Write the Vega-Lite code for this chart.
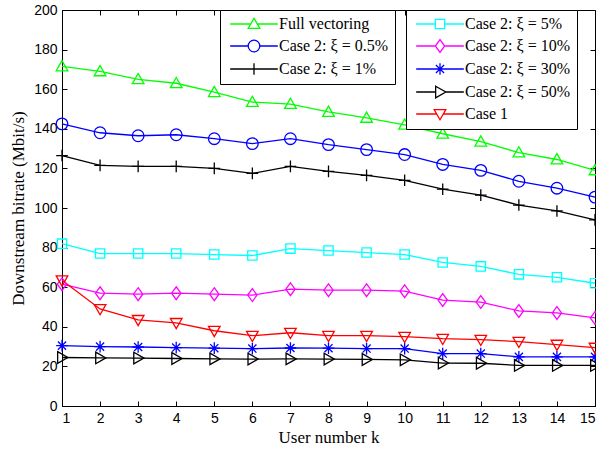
{
"$schema": "https://vega.github.io/schema/vega-lite/v6.json",
"width": 533, "height": 396,
"autosize": {"type": "none"},
"padding": {"left": 62, "top": 10, "right": 1, "bottom": 43},
"background": "white",
"data": {"values": [
{"k":1,"s":"Full vectoring","g":1,"v":171.5},{"k":2,"s":"Full vectoring","g":1,"v":169},{"k":3,"s":"Full vectoring","g":1,"v":165},{"k":4,"s":"Full vectoring","g":1,"v":163},{"k":5,"s":"Full vectoring","g":1,"v":158.5},{"k":6,"s":"Full vectoring","g":1,"v":153.5},{"k":7,"s":"Full vectoring","g":1,"v":152.5},{"k":8,"s":"Full vectoring","g":1,"v":148.5},{"k":9,"s":"Full vectoring","g":1,"v":145.5},{"k":10,"s":"Full vectoring","g":1,"v":142},{"k":11,"s":"Full vectoring","g":1,"v":137.5},{"k":12,"s":"Full vectoring","g":1,"v":133.5},{"k":13,"s":"Full vectoring","g":1,"v":128},{"k":14,"s":"Full vectoring","g":1,"v":124.5},{"k":15,"s":"Full vectoring","g":1,"v":119},
{"k":1,"s":"Case 2: ξ = 0.5%","g":1,"v":142.5},{"k":2,"s":"Case 2: ξ = 0.5%","g":1,"v":138},{"k":3,"s":"Case 2: ξ = 0.5%","g":1,"v":136.5},{"k":4,"s":"Case 2: ξ = 0.5%","g":1,"v":137},{"k":5,"s":"Case 2: ξ = 0.5%","g":1,"v":135},{"k":6,"s":"Case 2: ξ = 0.5%","g":1,"v":132.5},{"k":7,"s":"Case 2: ξ = 0.5%","g":1,"v":135},{"k":8,"s":"Case 2: ξ = 0.5%","g":1,"v":132},{"k":9,"s":"Case 2: ξ = 0.5%","g":1,"v":129.5},{"k":10,"s":"Case 2: ξ = 0.5%","g":1,"v":127},{"k":11,"s":"Case 2: ξ = 0.5%","g":1,"v":122},{"k":12,"s":"Case 2: ξ = 0.5%","g":1,"v":119},{"k":13,"s":"Case 2: ξ = 0.5%","g":1,"v":113.5},{"k":14,"s":"Case 2: ξ = 0.5%","g":1,"v":110},{"k":15,"s":"Case 2: ξ = 0.5%","g":1,"v":105.5},
{"k":1,"s":"Case 2: ξ = 1%","g":1,"v":126.5},{"k":2,"s":"Case 2: ξ = 1%","g":1,"v":121.5},{"k":3,"s":"Case 2: ξ = 1%","g":1,"v":121},{"k":4,"s":"Case 2: ξ = 1%","g":1,"v":121},{"k":5,"s":"Case 2: ξ = 1%","g":1,"v":120},{"k":6,"s":"Case 2: ξ = 1%","g":1,"v":117.5},{"k":7,"s":"Case 2: ξ = 1%","g":1,"v":121},{"k":8,"s":"Case 2: ξ = 1%","g":1,"v":118.5},{"k":9,"s":"Case 2: ξ = 1%","g":1,"v":116.5},{"k":10,"s":"Case 2: ξ = 1%","g":1,"v":114},{"k":11,"s":"Case 2: ξ = 1%","g":1,"v":109.5},{"k":12,"s":"Case 2: ξ = 1%","g":1,"v":106.5},{"k":13,"s":"Case 2: ξ = 1%","g":1,"v":101.5},{"k":14,"s":"Case 2: ξ = 1%","g":1,"v":98.5},{"k":15,"s":"Case 2: ξ = 1%","g":1,"v":94},
{"k":1,"s":"Case 2: ξ = 5%","g":2,"v":82},{"k":2,"s":"Case 2: ξ = 5%","g":2,"v":77},{"k":3,"s":"Case 2: ξ = 5%","g":2,"v":77},{"k":4,"s":"Case 2: ξ = 5%","g":2,"v":77},{"k":5,"s":"Case 2: ξ = 5%","g":2,"v":76.5},{"k":6,"s":"Case 2: ξ = 5%","g":2,"v":76},{"k":7,"s":"Case 2: ξ = 5%","g":2,"v":79.5},{"k":8,"s":"Case 2: ξ = 5%","g":2,"v":78.5},{"k":9,"s":"Case 2: ξ = 5%","g":2,"v":77.5},{"k":10,"s":"Case 2: ξ = 5%","g":2,"v":76.5},{"k":11,"s":"Case 2: ξ = 5%","g":2,"v":72.5},{"k":12,"s":"Case 2: ξ = 5%","g":2,"v":70.5},{"k":13,"s":"Case 2: ξ = 5%","g":2,"v":66.5},{"k":14,"s":"Case 2: ξ = 5%","g":2,"v":65},{"k":15,"s":"Case 2: ξ = 5%","g":2,"v":62},
{"k":1,"s":"Case 2: ξ = 10%","g":2,"v":61.5},{"k":2,"s":"Case 2: ξ = 10%","g":2,"v":57},{"k":3,"s":"Case 2: ξ = 10%","g":2,"v":56.5},{"k":4,"s":"Case 2: ξ = 10%","g":2,"v":57},{"k":5,"s":"Case 2: ξ = 10%","g":2,"v":56.5},{"k":6,"s":"Case 2: ξ = 10%","g":2,"v":56},{"k":7,"s":"Case 2: ξ = 10%","g":2,"v":59},{"k":8,"s":"Case 2: ξ = 10%","g":2,"v":58.5},{"k":9,"s":"Case 2: ξ = 10%","g":2,"v":58.5},{"k":10,"s":"Case 2: ξ = 10%","g":2,"v":58},{"k":11,"s":"Case 2: ξ = 10%","g":2,"v":53.5},{"k":12,"s":"Case 2: ξ = 10%","g":2,"v":52.5},{"k":13,"s":"Case 2: ξ = 10%","g":2,"v":48},{"k":14,"s":"Case 2: ξ = 10%","g":2,"v":47},{"k":15,"s":"Case 2: ξ = 10%","g":2,"v":44.5},
{"k":1,"s":"Case 2: ξ = 30%","g":2,"v":30.5},{"k":2,"s":"Case 2: ξ = 30%","g":2,"v":30},{"k":3,"s":"Case 2: ξ = 30%","g":2,"v":29.8},{"k":4,"s":"Case 2: ξ = 30%","g":2,"v":29.5},{"k":5,"s":"Case 2: ξ = 30%","g":2,"v":29.2},{"k":6,"s":"Case 2: ξ = 30%","g":2,"v":29},{"k":7,"s":"Case 2: ξ = 30%","g":2,"v":29.3},{"k":8,"s":"Case 2: ξ = 30%","g":2,"v":29.2},{"k":9,"s":"Case 2: ξ = 30%","g":2,"v":29},{"k":10,"s":"Case 2: ξ = 30%","g":2,"v":29},{"k":11,"s":"Case 2: ξ = 30%","g":2,"v":26.5},{"k":12,"s":"Case 2: ξ = 30%","g":2,"v":26.5},{"k":13,"s":"Case 2: ξ = 30%","g":2,"v":24.8},{"k":14,"s":"Case 2: ξ = 30%","g":2,"v":24.8},{"k":15,"s":"Case 2: ξ = 30%","g":2,"v":24.8},
{"k":1,"s":"Case 2: ξ = 50%","g":2,"v":24.5},{"k":2,"s":"Case 2: ξ = 50%","g":2,"v":24.3},{"k":3,"s":"Case 2: ξ = 50%","g":2,"v":24.2},{"k":4,"s":"Case 2: ξ = 50%","g":2,"v":24},{"k":5,"s":"Case 2: ξ = 50%","g":2,"v":23.8},{"k":6,"s":"Case 2: ξ = 50%","g":2,"v":23.7},{"k":7,"s":"Case 2: ξ = 50%","g":2,"v":23.8},{"k":8,"s":"Case 2: ξ = 50%","g":2,"v":23.7},{"k":9,"s":"Case 2: ξ = 50%","g":2,"v":23.5},{"k":10,"s":"Case 2: ξ = 50%","g":2,"v":23.3},{"k":11,"s":"Case 2: ξ = 50%","g":2,"v":21.7},{"k":12,"s":"Case 2: ξ = 50%","g":2,"v":21.6},{"k":13,"s":"Case 2: ξ = 50%","g":2,"v":20.5},{"k":14,"s":"Case 2: ξ = 50%","g":2,"v":20.5},{"k":15,"s":"Case 2: ξ = 50%","g":2,"v":20.5},
{"k":1,"s":"Case 1","g":2,"v":63.5},{"k":2,"s":"Case 1","g":2,"v":49},{"k":3,"s":"Case 1","g":2,"v":43.5},{"k":4,"s":"Case 1","g":2,"v":42},{"k":5,"s":"Case 1","g":2,"v":38},{"k":6,"s":"Case 1","g":2,"v":35.5},{"k":7,"s":"Case 1","g":2,"v":37},{"k":8,"s":"Case 1","g":2,"v":35.5},{"k":9,"s":"Case 1","g":2,"v":35.5},{"k":10,"s":"Case 1","g":2,"v":35},{"k":11,"s":"Case 1","g":2,"v":34},{"k":12,"s":"Case 1","g":2,"v":33.5},{"k":13,"s":"Case 1","g":2,"v":32.5},{"k":14,"s":"Case 1","g":2,"v":31},{"k":15,"s":"Case 1","g":2,"v":29.5}
]},
"encoding": {
  "x": {"field": "k", "type": "quantitative", "scale": {"domain": [1, 15], "nice": false, "zero": false}, "axis": null},
  "y": {"field": "v", "type": "quantitative", "scale": {"domain": [0, 200], "nice": false}, "axis": null}
},
"layer": [
  {
    "mark": {"type": "point", "opacity": 0},
    "encoding": {
      "x": {"field": "k", "type": "quantitative", "axis": {"orient": "top", "values": [1,2,3,4,5,6,7,8,9,10,11,12,13,14,15], "labels": false, "grid": false, "title": null, "domain": false}},
      "y": {"field": "v", "type": "quantitative", "axis": {"orient": "right", "values": [0,20,40,60,80,100,120,140,160,180,200], "labels": false, "grid": false, "title": null, "domain": false}}
    }
  },
  {
    "transform": [{"filter": "datum.g == 1"}],
    "encoding": {
      "x": {"field": "k", "type": "quantitative", "title": "User number k",
            "axis": {"values": [1,2,3,4,5,6,7,8,9,10,11,12,13,14,15], "format": "d"}},
      "y": {"field": "v", "type": "quantitative", "title": "Downstream bitrate (Mbit/s)",
            "axis": {"values": [0,20,40,60,80,100,120,140,160,180,200]}},
      "color": {"field": "s", "type": "nominal",
        "scale": {"domain": ["Full vectoring", "Case 2: ξ = 0.5%", "Case 2: ξ = 1%"], "range": ["#00ff00", "#0000ff", "#000000"]},
        "legend": {"orient": "none", "legendX": 158, "legendY": 0, "title": null,
          "encode": {"symbols": {"update": {"fill": {"value": "transparent"}, "strokeWidth": {"value": 1.3},
            "shape": {"signal": "datum.value === 'Full vectoring' ? 'M-4.1,0H-0.6M0.6,0H4.1M0,-1L1,0.75L-1,0.75Z' : datum.value === 'Case 2: ξ = 0.5%' ? 'M-4.1,0H-1M1,0H4.1M1,0A1,1,0,1,1,-1,0A1,1,0,1,1,1,0Z' : 'M-4.1,0H4.1M0,-1V1'"}}}}}}
    },
    "layer": [
      {"mark": {"type": "line", "strokeWidth": 1.3}},
      {"mark": {"type": "point", "filled": false, "size": 135, "strokeWidth": 1.3, "opacity": 1},
       "encoding": {"shape": {"field": "s", "type": "nominal", "legend": null,
         "scale": {"domain": ["Case 2: ξ = 1%", "Case 2: ξ = 0.5%", "Full vectoring"],
                   "range": ["M-1,0H1M0,-1V1", "M1,0A1,1,0,1,1,-1,0A1,1,0,1,1,1,0Z", "M0,-1L1,0.75L-1,0.75Z"]}}}}
    ]
  },
  {
    "transform": [{"filter": "datum.g == 2"}],
    "encoding": {
      "color": {"field": "s", "type": "nominal",
        "scale": {"domain": ["Case 2: ξ = 5%", "Case 2: ξ = 10%", "Case 2: ξ = 30%", "Case 2: ξ = 50%", "Case 1"], "range": ["#00ffff", "#ff00ff", "#0000ff", "#000000", "#ff0000"]},
        "legend": {"orient": "none", "legendX": 344, "legendY": 0, "title": null,
          "encode": {"symbols": {"update": {"fill": {"value": "transparent"}, "strokeWidth": {"value": 1.3},
            "shape": {"signal": "datum.value === 'Case 2: ξ = 5%' ? 'M-4.1,0H-0.8M0.8,0H4.1M-0.8,-0.8H0.8V0.8H-0.8Z' : datum.value === 'Case 2: ξ = 10%' ? 'M-4.1,0H-0.8M0.8,0H4.1M0,-1.1L0.8,0L0,1.1L-0.8,0Z' : datum.value === 'Case 2: ξ = 30%' ? 'M-4.1,0H4.1M0,-1V1M-0.7,-0.7L0.7,0.7M-0.7,0.7L0.7,-0.7' : datum.value === 'Case 2: ξ = 50%' ? 'M-4.1,0H-0.75M1,0H4.1M-0.75,-1L1,0L-0.75,1Z' : 'M-4.1,0H-0.6M0.6,0H4.1M-1,-0.75L1,-0.75L0,1Z'"}}}}}}
    },
    "layer": [
      {"mark": {"type": "line", "strokeWidth": 1.3}},
      {"mark": {"type": "point", "filled": false, "size": 135, "strokeWidth": 1.3, "opacity": 1},
       "encoding": {"shape": {"field": "s", "type": "nominal", "legend": null,
         "scale": {"domain": ["Case 1", "Case 2: ξ = 50%", "Case 2: ξ = 30%", "Case 2: ξ = 10%", "Case 2: ξ = 5%"],
                   "range": ["M-1,-0.75L1,-0.75L0,1Z", "M-0.75,-1L1,0L-0.75,1Z", "M-1,0H1M0,-1V1M-0.7,-0.7L0.7,0.7M-0.7,0.7L0.7,-0.7", "M0,-1.1L0.8,0L0,1.1L-0.8,0Z", "M-0.8,-0.8H0.8V0.8H-0.8Z"]}}}}
    ]
  }
],
"resolve": {"scale": {"color": "independent", "shape": "independent"}, "axis": {"x": "independent", "y": "independent"}},
"config": {
  "view": {"stroke": "#000", "strokeWidth": 1},
  "axis": {"grid": true, "gridColor": "#000", "gridDash": [1, 3], "gridOpacity": 0.6, "gridWidth": 1,
           "domainColor": "#000", "domainWidth": 1, "tickColor": "#000", "tickSize": -5,
           "labelFont": "Liberation Sans", "labelFontSize": 14, "labelColor": "#000",
           "titleFont": "Liberation Serif", "titleFontSize": 17, "titleFontWeight": "normal", "titleColor": "#000"},
  "axisX": {"labelPadding": 10, "titlePadding": 4},
  "axisY": {"labelPadding": 10, "titlePadding": 6},
  "legend": {"strokeColor": "#000", "fillColor": "#fff", "padding": 6, "labelFont": "Liberation Serif", "labelFontSize": 16,
             "labelColor": "#000", "symbolSize": 135, "symbolStrokeWidth": 1.3, "rowPadding": 5, "symbolOffset": 20, "labelOffset": 17, "labelLimit": 300}
}
}
